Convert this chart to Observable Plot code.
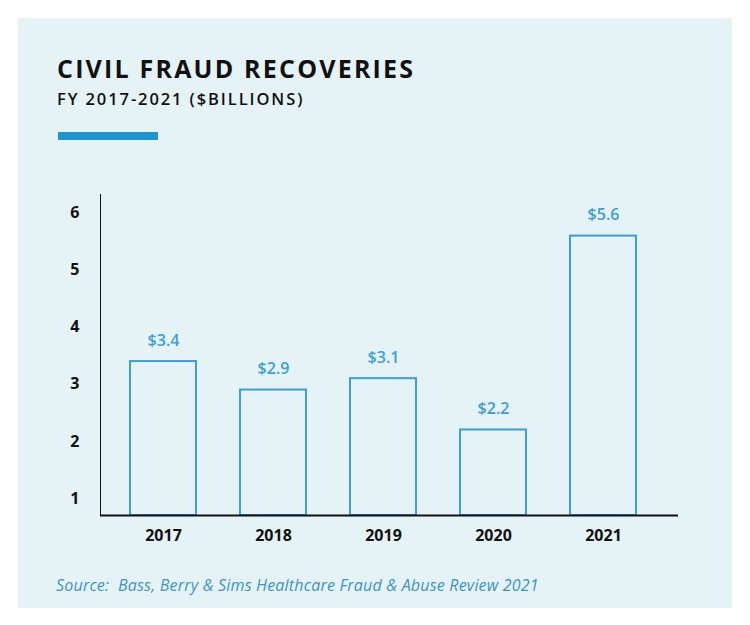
<!DOCTYPE html>
<html>
<head>
<meta charset="utf-8">
<script src="https://cdn.jsdelivr.net/npm/d3@7"></script>
<script src="https://cdn.jsdelivr.net/npm/@observablehq/plot@0.6"></script>
<style>
  html, body { margin: 0; padding: 0; background: #ffffff; }
  #panel {
    position: absolute; left: 18px; top: 18px; width: 714px; height: 590px;
    background: #e6f3f6; font-family: "Open Sans", sans-serif;
  }
  #title {
    position: absolute; left: 39px; top: 34px; margin: 0; white-space: nowrap;
    font-size: 25px; font-weight: 700; color: #111; letter-spacing: 2.2px; line-height: 32px;
  }
  #subtitle {
    position: absolute; left: 39px; top: 70px; margin: 0; white-space: nowrap;
    font-size: 16.5px; font-weight: 600; color: #111; letter-spacing: 1.9px; line-height: 22px;
  }
  #accent {
    position: absolute; left: 40px; top: 114px; width: 100px; height: 8px; background: #1f95d3;
  }
  #chart { position: absolute; left: 0; top: 142px; }
  #source {
    position: absolute; left: 38px; top: 556px; margin: 0; white-space: nowrap;
    font-size: 16px; font-style: italic; color: #3a93cc; line-height: 22px; letter-spacing: 0.2px;
  }
</style>
</head>
<body>
<div id="panel">
  <div id="title">CIVIL FRAUD RECOVERIES</div>
  <div id="subtitle">FY 2017-2021 ($BILLIONS)</div>
  <div id="accent"></div>
  <div id="chart"></div>
  <div id="source">Source:&nbsp; Bass, Berry &amp; Sims Healthcare Fraud &amp; Abuse Review 2021</div>
</div>
<script>
const years = ["2017", "2018", "2019", "2020", "2021"];
const recoveries = [3.4, 2.9, 3.1, 2.2, 5.6];
const valueLabels = ["$3.4", "$2.9", "$3.1", "$2.2", "$5.6"];
const yTicks = [1, 2, 3, 4, 5, 6];

const data = years.map((year, i) => ({year, value: recoveries[i], label: valueLabels[i]}));

const Y_MIN = 0.70, Y_MAX = 6.33;
const barColor = "#3a9fd6";

const chart = Plot.plot({
  width: 714,
  height: 405,
  marginLeft: 82,
  marginRight: 54,
  marginTop: 34,
  marginBottom: 50,
  style: {background: "transparent", fontFamily: "'Open Sans', sans-serif", fontSize: "16px", color: "#111"},
  x: {domain: years, range: [78, 651], paddingInner: 0.4, paddingOuter: 0.3, label: null, tickSize: 0, tickPadding: 14},
  y: {domain: [Y_MIN, Y_MAX], ticks: yTicks, tickFormat: d => String(d), label: null, tickSize: 0, tickPadding: 21, line: true},
  marks: [
    Plot.barY(data, {x: "year", y1: Y_MIN, y2: "value", fill: "#e6f3f6", stroke: barColor, strokeWidth: 2}),
    Plot.text(data, {x: "year", y: "value", text: "label", dy: -21, fill: barColor, fontSize: 16, fontWeight: 600}),
    Plot.ruleY([Y_MIN], {stroke: "#111", strokeWidth: 2})
  ]
});
chart.querySelectorAll("g[aria-label='x-axis tick label'] text, g[aria-label='y-axis tick label'] text, g[aria-label='x-axis'] text, g[aria-label='y-axis'] text").forEach(t => t.setAttribute("font-weight", "700"));
document.getElementById("chart").appendChild(chart);
</script>
</body>
</html>
